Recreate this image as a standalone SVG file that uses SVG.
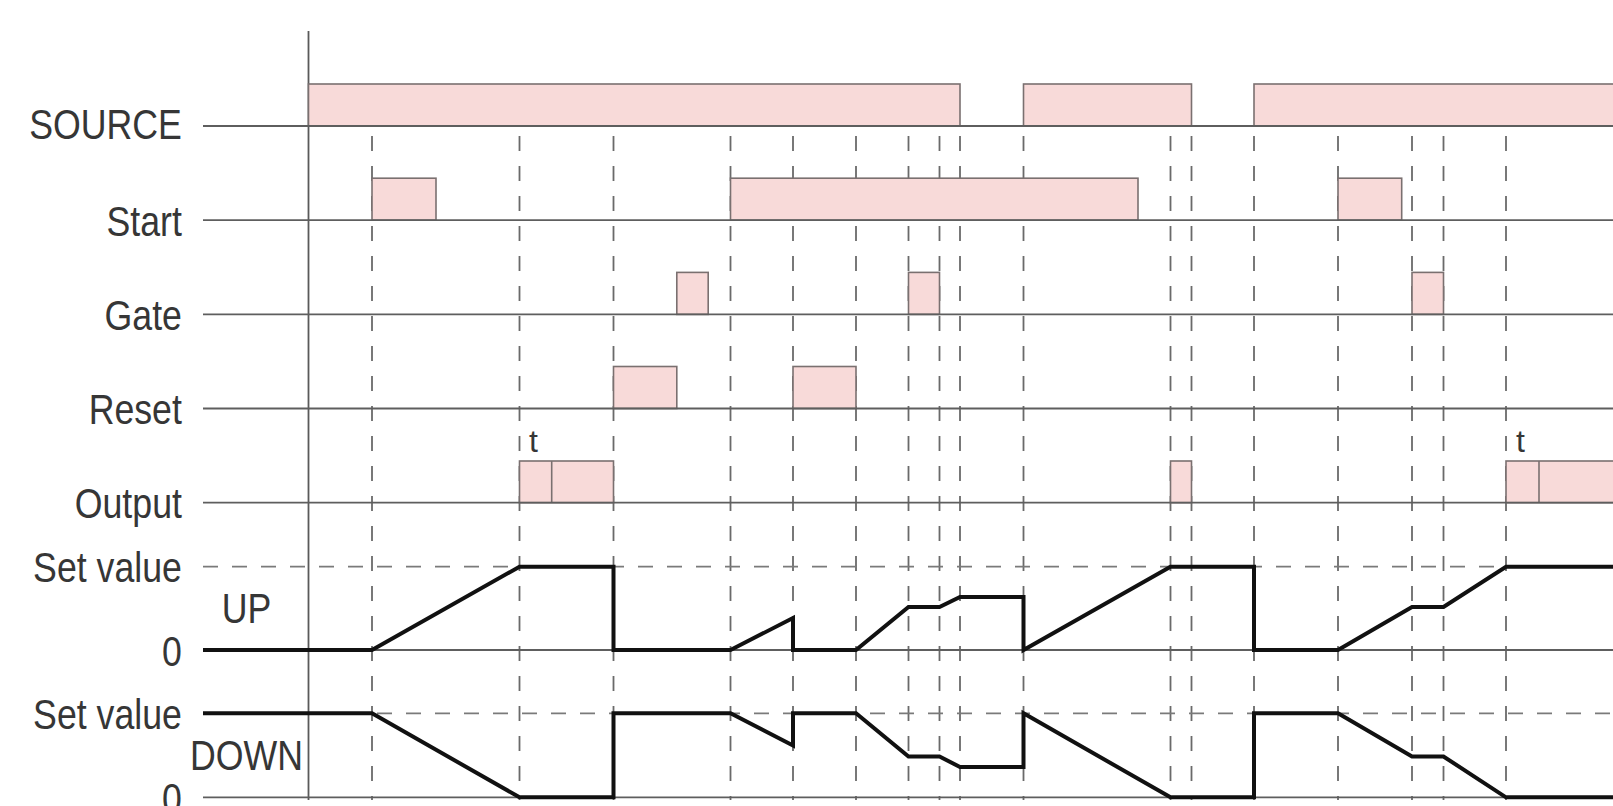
<svg xmlns="http://www.w3.org/2000/svg" width="1613" height="806" viewBox="0 0 1613 806">
<style>
.bg{fill:#ffffff}
.vdash{stroke:#6a6a6a;stroke-width:1.8;stroke-dasharray:15 15;fill:none}
.hdash{stroke:#7a7a7a;stroke-width:1.8;stroke-dasharray:15 14;fill:none}
.base{stroke:#5e5e5e;stroke-width:1.8;fill:none}
.axis{stroke:#5a5a5a;stroke-width:1.8;fill:none}
.pulse{fill:#f8dad9;stroke:#7a7070;stroke-width:1.6}
.div{stroke:#7a7070;stroke-width:1.6}
.wave{stroke:#111111;stroke-width:4;fill:none;stroke-linejoin:miter}
.lbl{font-family:"Liberation Sans",Arial,sans-serif;font-size:42px;fill:#363636}
.t{font-family:"Liberation Sans",Arial,sans-serif;font-size:32px;fill:#363636}
</style>
<rect class="bg" x="0" y="0" width="1613" height="806"/>

<g id="gridlines">
  <path class="vdash" d="M372,136V800 M519.5,136V800 M613.5,136V800 M730.5,136V800 M793,136V800 M856,136V800 M908.5,136V800 M939.5,136V800 M960,136V800 M1023.5,136V800 M1170.5,136V800 M1191.5,136V800 M1254,136V800 M1338,136V800 M1412,136V800 M1443.5,136V800 M1506,136V800"/>
  <path class="hdash" d="M203,566.7H1613 M203,713.3H1613"/>
  <line class="axis" x1="308.5" y1="31" x2="308.5" y2="800"/>
</g>

<g id="source">
  <rect class="pulse" x="308.5" y="84" width="651.5" height="42"/>
  <rect class="pulse" x="1023.5" y="84" width="168" height="42"/>
  <rect class="pulse" x="1254" y="84" width="365" height="42"/>
  <line class="base" x1="203" y1="126" x2="1613" y2="126"/>
</g>

<g id="start">
  <rect class="pulse" x="372" y="178.2" width="64" height="42"/>
  <rect class="pulse" x="730.5" y="178.2" width="407.5" height="42"/>
  <rect class="pulse" x="1338" y="178.2" width="63.7" height="42"/>
  <line class="base" x1="203" y1="220.2" x2="1613" y2="220.2"/>
</g>

<g id="gate">
  <rect class="pulse" x="676.8" y="272.4" width="31.4" height="42"/>
  <rect class="pulse" x="908.5" y="272.4" width="31" height="42"/>
  <rect class="pulse" x="1412" y="272.4" width="31.5" height="42"/>
  <line class="base" x1="203" y1="314.4" x2="1613" y2="314.4"/>
</g>

<g id="reset">
  <rect class="pulse" x="613.5" y="366.5" width="63.3" height="42"/>
  <rect class="pulse" x="793" y="366.5" width="63" height="42"/>
  <line class="base" x1="203" y1="408.5" x2="1613" y2="408.5"/>
</g>

<g id="output">
  <rect class="pulse" x="519.5" y="461" width="94" height="41.7"/>
  <line class="div" x1="551.7" y1="461" x2="551.7" y2="502.7"/>
  <rect class="pulse" x="1170.5" y="461" width="21" height="41.7"/>
  <rect class="pulse" x="1506" y="461" width="112" height="41.7"/>
  <line class="div" x1="1539" y1="461" x2="1539" y2="502.7"/>
  <line class="base" x1="203" y1="502.7" x2="1613" y2="502.7"/>
  <text class="t" x="529" y="452">t</text>
  <text class="t" x="1516" y="452">t</text>
</g>

<g id="up">
  <line class="base" x1="203" y1="650" x2="1613" y2="650"/>
  <path class="wave" d="M203,650 H372 L519.5,566.7 H613.5 V650 H730.5 L793,618 V650 H856 L908.5,607 H939.5 L960,597 H1023.5 V650 L1170.5,566.7 H1254 V650 H1338 L1412,607 H1443.5 L1506,566.7 H1613"/>
</g>

<g id="down">
  <line class="base" x1="203" y1="797.3" x2="1613" y2="797.3"/>
  <path class="wave" d="M203,713.3 H372 L519.5,797.3 H613.5 V713.3 H730.5 L793,745.5 V713.3 H856 L908.5,756.5 H939.5 L960,767 H1023.5 V713.3 L1170.5,797.3 H1254 V713.3 H1338 L1412,756.5 H1443.5 L1506,797.3 H1613"/>
</g>

<g id="labels" transform="scale(0.85 1)">
  <text class="lbl" x="214" y="139.5" text-anchor="end">SOURCE</text>
  <text class="lbl" x="214" y="236.5" text-anchor="end">Start</text>
  <text class="lbl" x="214" y="330" text-anchor="end">Gate</text>
  <text class="lbl" x="214" y="424" text-anchor="end">Reset</text>
  <text class="lbl" x="214" y="518" text-anchor="end">Output</text>
  <text class="lbl" x="214" y="582" text-anchor="end">Set value</text>
  <text class="lbl" x="260.8" y="623.5">UP</text>
  <text class="lbl" x="214" y="666" text-anchor="end">0</text>
  <text class="lbl" x="214" y="729" text-anchor="end">Set value</text>
  <text class="lbl" x="223.5" y="770">DOWN</text>
  <text class="lbl" x="214" y="813" text-anchor="end">0</text>
</g>
</svg>
